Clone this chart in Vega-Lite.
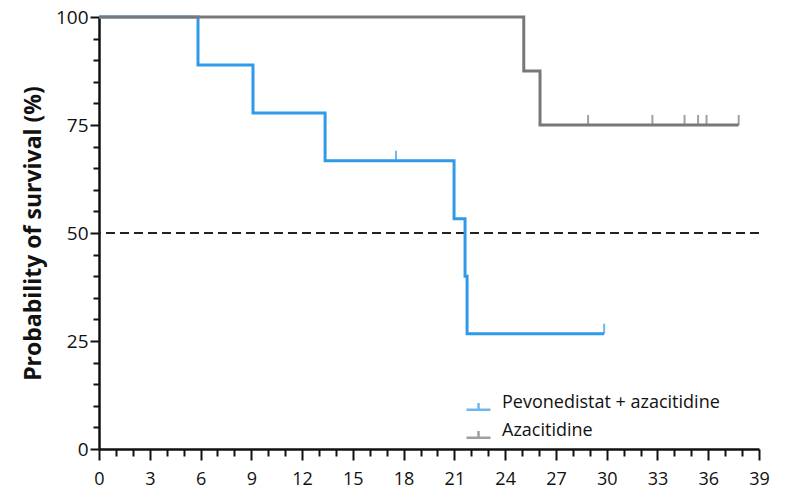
{
  "$schema": "https://vega.github.io/schema/vega-lite/v6.json",
  "width": 660,
  "height": 432,
  "autosize": {"type": "none"},
  "padding": {"left": 99, "top": 17, "right": 26, "bottom": 43},
  "background": "white",
  "config": {
    "view": {"stroke": null},
    "font": "Open Sans",
    "axis": {
      "domainColor": "#111111",
      "domainWidth": 2.5,
      "tickColor": "#111111",
      "tickWidth": 2,
      "labelColor": "#111111",
      "labelFont": "Open Sans",
      "labelFontSize": 19,
      "grid": false
    },
    "legend": {
      "orient": "none",
      "legendX": 366,
      "legendY": 372,
      "padding": 0,
      "labelFont": "Open Sans",
      "labelFontSize": 18,
      "labelColor": "#111111",
      "labelLimit": 0,
      "labelOffset": 10,
      "rowPadding": 2,
      "symbolSize": 576,
      "symbolStrokeWidth": 2.5,
      "symbolFillColor": "transparent",
      "symbolType": "M-1,0.6H1M0,0.6V0.05",
      "title": null
    }
  },
  "datasets": {
    "curves": [
      {"series": "Pevonedistat + azacitidine", "time": 0, "surv": 100},
      {"series": "Pevonedistat + azacitidine", "time": 5.85, "surv": 88.9},
      {"series": "Pevonedistat + azacitidine", "time": 9.1, "surv": 77.8},
      {"series": "Pevonedistat + azacitidine", "time": 13.36, "surv": 66.7},
      {"series": "Pevonedistat + azacitidine", "time": 20.98, "surv": 53.3},
      {"series": "Pevonedistat + azacitidine", "time": 21.63, "surv": 40.0},
      {"series": "Pevonedistat + azacitidine", "time": 21.75, "surv": 26.7},
      {"series": "Pevonedistat + azacitidine", "time": 29.85, "surv": 26.7},
      {"series": "Azacitidine", "time": 0, "surv": 100},
      {"series": "Azacitidine", "time": 25.1, "surv": 87.5},
      {"series": "Azacitidine", "time": 26.06, "surv": 75},
      {"series": "Azacitidine", "time": 37.8, "surv": 75}
    ],
    "censors": [
      {"series": "Pevonedistat + azacitidine", "time": 17.55, "surv": 66.7},
      {"series": "Pevonedistat + azacitidine", "time": 29.85, "surv": 26.7},
      {"series": "Azacitidine", "time": 28.9, "surv": 75},
      {"series": "Azacitidine", "time": 32.7, "surv": 75},
      {"series": "Azacitidine", "time": 34.6, "surv": 75},
      {"series": "Azacitidine", "time": 35.4, "surv": 75},
      {"series": "Azacitidine", "time": 35.9, "surv": 75},
      {"series": "Azacitidine", "time": 37.8, "surv": 75}
    ],
    "ref": [{"y": 50}]
  },
  "encoding": {
    "x": {
      "field": "time",
      "type": "quantitative",
      "scale": {"domain": [0, 39], "nice": false, "zero": false},
      "axis": {
        "title": null,
        "values": [0,1,2,3,4,5,6,7,8,9,10,11,12,13,14,15,16,17,18,19,20,21,22,23,24,25,26,27,28,29,30,31,32,33,34,35,36,37,38,39],
        "labelExpr": "datum.value % 3 === 0 ? datum.label : ''",
        "tickSize": {"condition": {"test": "datum.value % 3 === 0", "value": 11}, "value": 7},
        "labelPadding": 10,
        "labelFontSize": 18,
        "labelFlush": false,
        "labelOverlap": false
      }
    },
    "y": {
      "field": "surv",
      "type": "quantitative",
      "scale": {"domain": [0, 100], "nice": false},
      "axis": {
        "title": "Probability of survival (%)",
        "titleFont": "Open Sans",
        "titleFontSize": 23,
        "titleFontWeight": "bold",
        "titleColor": "#111111",
        "titlePadding": 10,
        "values": [0,5,10,15,20,25,30,35,40,45,50,55,60,65,70,75,80,85,90,95,100],
        "labelExpr": "datum.value % 25 === 0 ? datum.label : ''",
        "tickSize": {"condition": {"test": "datum.value % 25 === 0", "value": 9}, "value": 6},
        "labelPadding": 2,
        "labelOverlap": false
      }
    }
  },
  "layer": [
    {
      "data": {"name": "ref"},
      "mark": {"type": "rule", "color": "#222222", "strokeWidth": 2, "strokeDash": [9, 5]},
      "encoding": {"y": {"field": "y", "type": "quantitative"}, "x": null}
    },
    {
      "data": {"name": "curves"},
      "transform": [{"filter": "datum.series === 'Pevonedistat + azacitidine'"}],
      "mark": {"type": "line", "interpolate": "step-after", "strokeWidth": 3},
      "encoding": {
        "color": {
          "field": "series",
          "type": "nominal",
          "scale": {"domain": ["Pevonedistat + azacitidine", "Azacitidine"], "range": ["#2f9be8", "#787878"]}
        }
      }
    },
    {
      "data": {"name": "curves"},
      "transform": [{"filter": "datum.series === 'Azacitidine'"}],
      "mark": {"type": "line", "interpolate": "step-after", "strokeWidth": 3},
      "encoding": {
        "color": {"field": "series", "type": "nominal"}
      }
    },
    {
      "data": {"name": "censors"},
      "mark": {"type": "tick", "orient": "vertical", "size": 10, "thickness": 2, "yOffset": -5},
      "encoding": {
        "color": {"field": "series", "type": "nominal"}
      }
    }
  ]
}
